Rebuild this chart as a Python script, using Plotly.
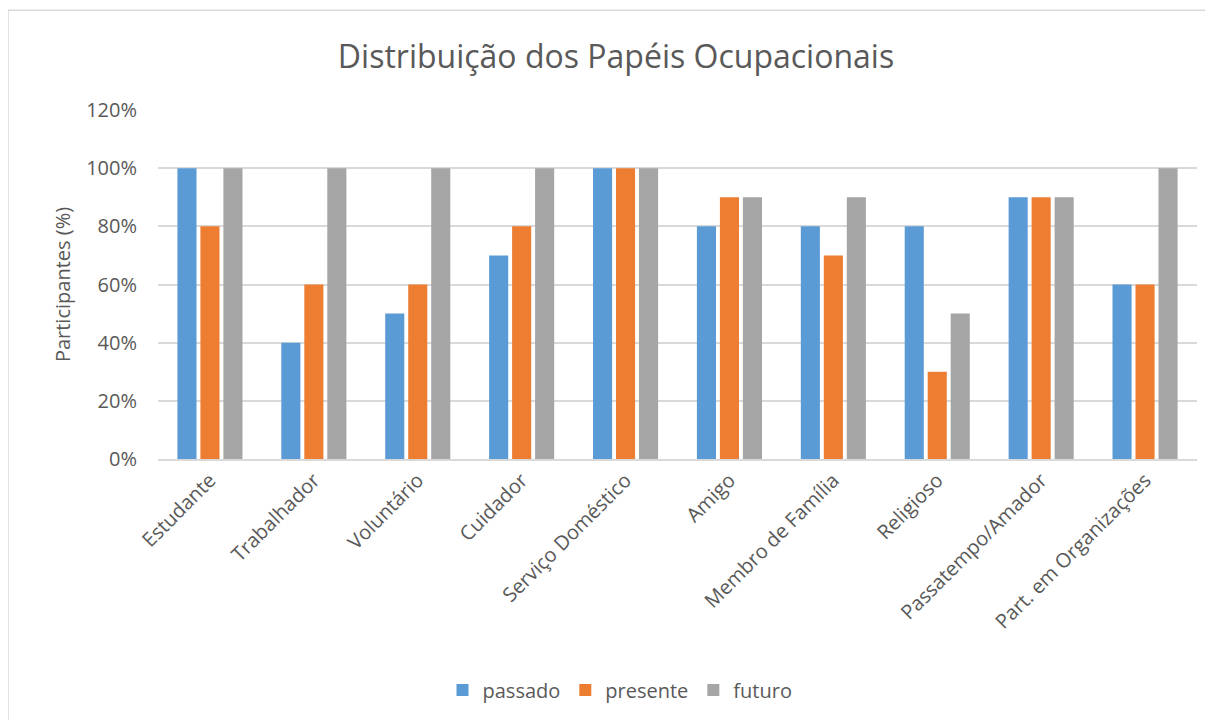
import plotly.graph_objects as go

categories = ["Estudante", "Trabalhador", "Voluntário", "Cuidador", "Serviço Doméstico",
              "Amigo", "Membro de Família", "Religioso", "Passatempo/Amador", "Part. em Organizações"]
passado = [1.00, 0.40, 0.50, 0.70, 1.00, 0.80, 0.80, 0.80, 0.90, 0.60]
presente = [0.80, 0.60, 0.60, 0.80, 1.00, 0.90, 0.70, 0.30, 0.90, 0.60]
futuro = [1.00, 1.00, 1.00, 1.00, 1.00, 0.90, 0.90, 0.50, 0.90, 1.00]
series_names = ["passado", "presente", "futuro"]
colors = ["#5B9BD5", "#ED7D31", "#A5A5A5"]

FONT = "Open Sans"
TXT = "#595959"

# page body adds an 8px offset; work in figure-local coordinates
OFF = 8
W, H = 1213 - OFF, 720 - OFF
L, T = 158 - OFF, 110 - OFF
pw, ph = 1039, 350
R = W - L - pw
B = H - T - ph

def px(x):
    return (x - OFF - L) / pw

def py(y):
    return (T + ph - (y - OFF)) / ph

fig = go.Figure()
for name, vals, c in zip(series_names, [passado, presente, futuro], colors):
    fig.add_trace(go.Bar(x=categories, y=vals, name=name, marker_color=c,
                         marker_line_width=0))

border = dict(color="#D9D9D9", width=1.5)
fig.update_layout(
    width=W, height=H,
    margin=dict(l=L, r=R, t=T, b=B),
    paper_bgcolor="white", plot_bgcolor="white",
    barmode="group", bargap=0.336, bargroupgap=0.17,
    font=dict(family=FONT, color=TXT, size=20),
    title=dict(text="Distribuição dos Papéis Ocupacionais", x=(616 - OFF) / W, xanchor="center",
               xref="container", y=1 - (57 - OFF) / H, yanchor="middle", yref="container",
               font=dict(size=32, color=TXT, family=FONT)),
    showlegend=True,
    legend=dict(orientation="h", x=px(620), xanchor="center", y=py(690), yanchor="middle",
                font=dict(size=20, color=TXT), traceorder="normal", itemsizing="constant"),
    xaxis=dict(tickangle=-45, showgrid=False, showline=True, linecolor="#D9D9D9", linewidth=1.5,
               ticks="", tickfont=dict(size=20, color=TXT)),
    yaxis=dict(range=[0, 1.2], dtick=0.2, tickformat=".0%", showgrid=True, gridcolor="#D9D9D9",
               gridwidth=1.5, zeroline=False, showline=False, ticks="",
               ticklabelstandoff=20,
               tickfont=dict(size=20, color=TXT),
               title=dict(text="Participantes (%)", font=dict(size=20, color=TXT), standoff=10)),
    shapes=[
        dict(type="line", xref="paper", yref="paper", x0=px(8), x1=px(1213), y0=py(10), y1=py(10),
             line=border, layer="below"),
        dict(type="line", xref="paper", yref="paper", x0=px(8), x1=px(8), y0=py(10), y1=py(722),
             line=border, layer="below"),
    ],
)

fig.write_html("out.html")
